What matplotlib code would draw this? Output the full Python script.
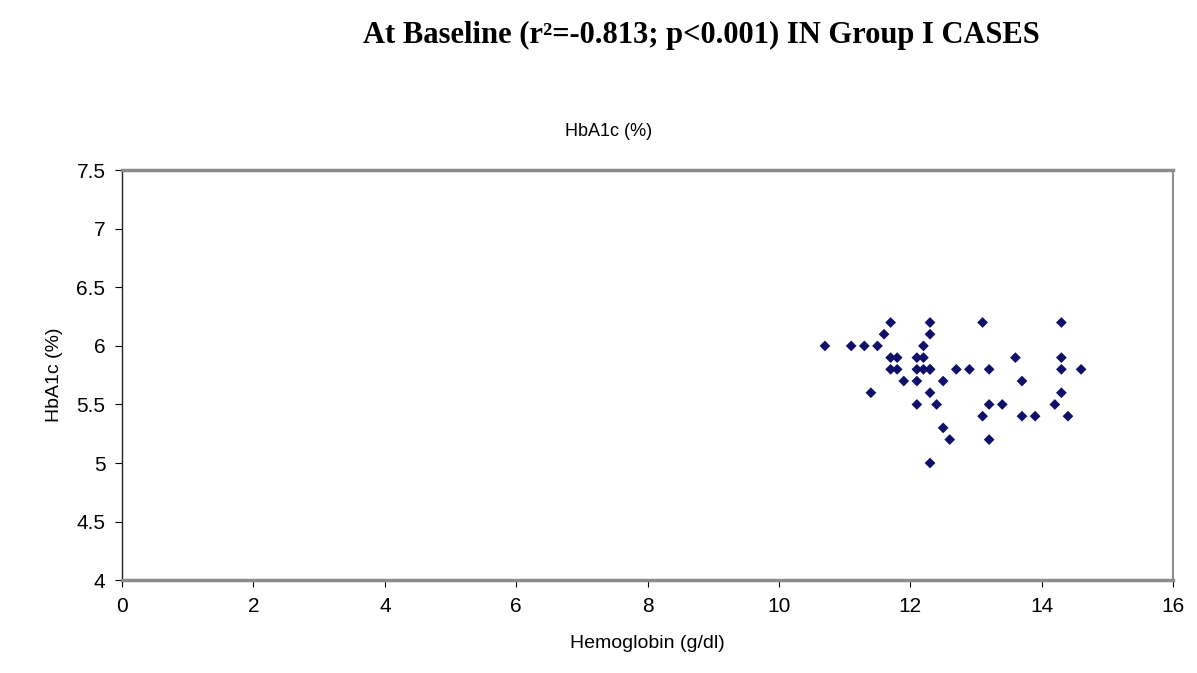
import matplotlib.pyplot as plt

plt.rcParams['font.family'] = 'Liberation Sans'

# Hemoglobin (g/dl) vs HbA1c (%)
hb = [10.7, 11.1, 11.3, 11.5, 11.6, 11.7, 12.3, 12.3, 12.2, 13.1,
      11.7, 11.8, 12.1, 12.2,
      11.7, 11.8, 12.1, 12.2, 12.3, 12.3, 12.7, 12.9, 13.2,
      11.9, 12.1, 12.5,
      11.4, 12.3, 12.1, 12.4, 13.2, 13.4, 13.1, 12.5, 12.6, 13.2, 12.3,
      14.3, 13.6, 14.3, 14.3, 14.6, 13.7, 14.3, 14.2, 13.7, 13.9, 14.4]
hba1c = [6.0, 6.0, 6.0, 6.0, 6.1, 6.2, 6.2, 6.1, 6.0, 6.2,
         5.9, 5.9, 5.9, 5.9,
         5.8, 5.8, 5.8, 5.8, 5.8, 5.8, 5.8, 5.8, 5.8,
         5.7, 5.7, 5.7,
         5.6, 5.6, 5.5, 5.5, 5.5, 5.5, 5.4, 5.3, 5.2, 5.2, 5.0,
         6.2, 5.9, 5.9, 5.8, 5.8, 5.7, 5.6, 5.5, 5.4, 5.4, 5.4]

xticks = [0, 2, 4, 6, 8, 10, 12, 14, 16]
yticks = [4, 4.5, 5, 5.5, 6, 6.5, 7, 7.5]

fig = plt.figure(figsize=(11.97, 6.73), dpi=100)
ax = fig.add_axes([0.102, 0.138, 0.878, 0.609])

ax.scatter(hb, hba1c, marker='D', s=30, color='#10106a', edgecolors='none', zorder=3)

ax.set_xlim(0, 16)
ax.set_ylim(4, 7.5)
ax.set_xticks(xticks)
ax.set_yticks(yticks)
ax.set_yticklabels([('%g' % v) for v in yticks])
ax.tick_params(labelsize=15, length=5, direction='out', pad=7)

for s in ['top', 'bottom']:
    ax.spines[s].set_color('#8c8c8c')
    ax.spines[s].set_linewidth(2.5)
ax.spines['right'].set_color('#8c8c8c')
ax.spines['right'].set_linewidth(1.5)
ax.spines['left'].set_color('#222222')
ax.spines['left'].set_linewidth(1)

ax.set_xlabel('Hemoglobin (g/dl)', fontsize=14, labelpad=14)
ax.set_ylabel('HbA1c (%)', fontsize=14, labelpad=10)

fig.text(0.508, 0.805, 'HbA1c (%)', fontsize=13, ha='center', va='center')
fig.text(0.586, 0.948, 'At Baseline (r\u00b2=-0.813; p<0.001) IN Group I CASES',
         fontsize=22, fontweight='bold', family='Liberation Serif',
         ha='center', va='center')

fig.savefig('out.png', dpi=100)
